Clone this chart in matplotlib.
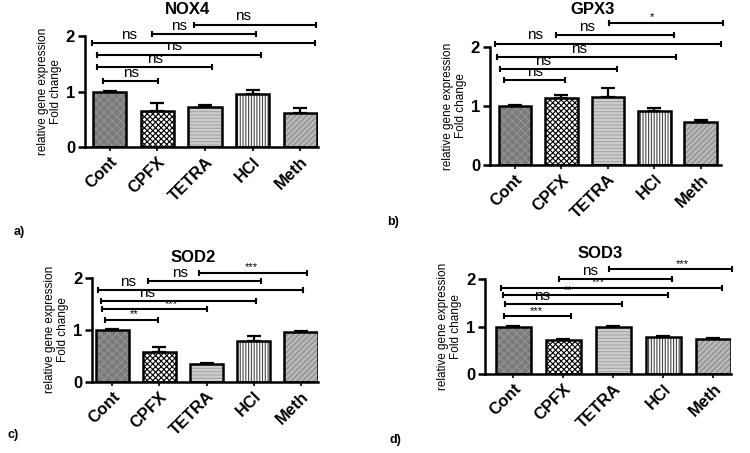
import numpy as np
import matplotlib
matplotlib.use('Agg')
import matplotlib.pyplot as plt

plt.rcParams['font.family'] = ['Liberation Sans', 'DejaVu Sans']
plt.rcParams['hatch.linewidth'] = 0.8

groups = ['Cont', 'CPFX', 'TETRA', 'HCl', 'Meth']

# bar heights and upper SEM per gene
nox4_mean = [1.00, 0.65, 0.72, 0.96, 0.62]
nox4_err = [0.02, 0.15, 0.04, 0.07, 0.08]
gpx3_mean = [1.00, 1.14, 1.15, 0.91, 0.72]
gpx3_err = [0.02, 0.04, 0.15, 0.06, 0.05]
sod2_mean = [1.00, 0.57, 0.335, 0.79, 0.955]
sod2_err = [0.01, 0.09, 0.03, 0.10, 0.025]
sod3_mean = [1.00, 0.71, 1.00, 0.78, 0.73]
sod3_err = [0.01, 0.04, 0.01, 0.02, 0.025]

# significance brackets: left end, right end, height, label, label x
nox4_left = [-0.13, -0.26, -0.26, -0.36, 0.90, 1.77]
nox4_right = [1.02, 2.14, 3.17, 4.31, 3.07, 4.33]
nox4_y = [1.20, 1.45, 1.67, 1.88, 2.04, 2.21]
nox4_lab = ['ns', 'ns', 'ns', 'ns', 'ns', 'ns']
nox4_labx = [0.45, 0.95, 1.35, 0.4, 1.45, 2.8]

gpx3_left = [-0.24, -0.32, -0.38, -0.43, 0.88, 2.03]
gpx3_right = [1.08, 2.19, 3.46, 4.44, 3.42, 4.47]
gpx3_y = [1.44, 1.62, 1.83, 2.06, 2.20, 2.41]
gpx3_lab = ['ns', 'ns', 'ns', 'ns', 'ns', '*']
gpx3_labx = [0.43, 0.61, 1.38, 0.43, 1.56, 2.94]

sod2_left = [-0.14, -0.22, -0.23, -0.30, 0.75, 1.84]
sod2_right = [0.98, 2.02, 3.05, 4.04, 3.15, 4.12]
sod2_y = [1.19, 1.39, 1.55, 1.77, 1.94, 2.09]
sod2_lab = ['**', '***', 'ns', 'ns', 'ns', '***']
sod2_labx = [0.46, 1.26, 0.73, 0.34, 1.44, 2.95]

sod3_left = [-0.19, -0.17, -0.20, -0.25, 0.92, 1.92]
sod3_right = [1.15, 2.17, 3.10, 4.17, 3.17, 4.37]
sod3_y = [1.22, 1.48, 1.66, 1.82, 2.01, 2.21]
sod3_lab = ['***', 'ns', '**', '***', 'ns', '***']
sod3_labx = [0.47, 0.57, 1.10, 1.70, 1.53, 3.37]

# bar looks: face, hatch, hatch colour
faces = ['#7a7a7a', 'white', '#cdcdcd', 'white', '#b8b8b8']
hatches = ['xxxx', 'xxxxxx', '-----', '||||||', '//////']
hcols = ['#949494', 'black', '#a5a5a5', '#444444', '#8a8a8a']

fig = plt.figure(figsize=(7.5, 4.53), dpi=100)


def panel(rect, title, tpos, mean, err, left, right, y, lab, labx, xlim):
    ax = fig.add_axes(rect)
    x = np.arange(len(groups))
    for i in range(len(groups)):
        ax.bar(x[i], mean[i], width=0.7, color=faces[i], hatch=hatches[i],
               edgecolor=hcols[i], linewidth=0, zorder=2)
    ax.bar(x, mean, width=0.7, fill=False, edgecolor='black', linewidth=1.8, zorder=3)
    ax.errorbar(x, mean, yerr=[np.zeros(len(x)), err], fmt='none', ecolor='black',
                elinewidth=1.6, capsize=5, capthick=1.6, zorder=1)
    for l, r, yy, t, tx in zip(left, right, y, lab, labx):
        ax.plot([l, r], [yy, yy], color='black', lw=1.5, marker='|', markersize=5,
                markeredgewidth=1.5, clip_on=False)
        if 'ns' in t:
            ax.text(tx, yy + 0.02, t, ha='center', va='bottom', fontsize=11)
        else:
            ax.text(tx, yy + 0.01, t, ha='center', va='bottom', fontsize=8)
    ax.set_xlim(xlim)
    ax.set_ylim(0, 2)
    ax.set_yticks([0, 1, 2])
    ax.set_yticklabels(['0', '1', '2'], fontsize=12, fontweight='bold')
    ax.set_xticks(x)
    ax.set_xticklabels(groups, rotation=45, ha='right', rotation_mode='anchor',
                       fontsize=12, fontweight='bold')
    for s in ['top', 'right']:
        ax.spines[s].set_visible(False)
    for s in ['left', 'bottom']:
        ax.spines[s].set_linewidth(1.8)
    ax.tick_params(axis='y', width=1.8, length=5, pad=2)
    ax.tick_params(axis='x', width=1.2, length=3, pad=2)
    ax.set_ylabel('relative gene expression\nFold change', fontsize=8.5,
                  linespacing=1.1, labelpad=3)
    fig.text(tpos[0] / 750, 1 - tpos[1] / 453, title, fontsize=12, fontweight='bold',
             ha='center', va='center')
    return ax


panel([0.113, 0.675, 0.311, 0.245], 'NOX4', (187, 9), nox4_mean, nox4_err,
      nox4_left, nox4_right, nox4_y, nox4_lab, nox4_labx, (-0.52, 4.37))
panel([0.653, 0.636, 0.308, 0.260], 'GPX3', (593, 10), gpx3_mean, gpx3_err,
      gpx3_left, gpx3_right, gpx3_y, gpx3_lab, gpx3_labx, (-0.54, 4.43))
panel([0.123, 0.157, 0.301, 0.230], 'SOD2', (193, 257), sod2_mean, sod2_err,
      sod2_left, sod2_right, sod2_y, sod2_lab, sod2_labx, (-0.42, 4.36))
panel([0.647, 0.174, 0.327, 0.210], 'SOD3', (600, 254), sod3_mean, sod3_err,
      sod3_left, sod3_right, sod3_y, sod3_lab, sod3_labx, (-0.56, 4.34))

for t, px, py in [('a)', 14, 232), ('b)', 387, 222), ('c)', 8, 435), ('d)', 390, 440)]:
    fig.text(px / 750, 1 - py / 453, t, fontsize=9, fontweight='bold',
             va='center', ha='left')

fig.savefig('out.png', dpi=100)
